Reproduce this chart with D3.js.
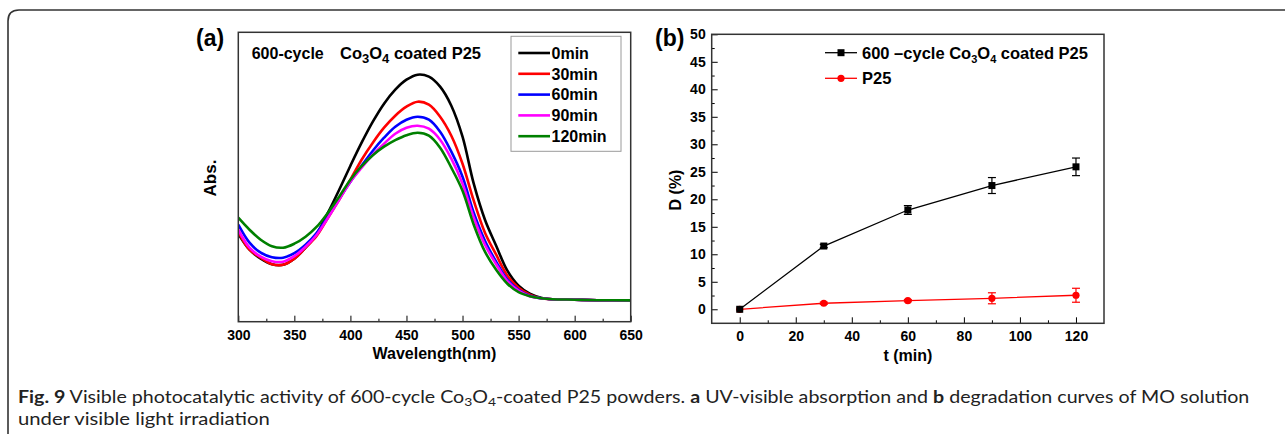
<!DOCTYPE html>
<html>
<head>
<meta charset="utf-8">
<script src="https://cdn.jsdelivr.net/npm/d3@7"></script>
<style>
  body { margin: 0; background: #fff; }
  svg { display: block; }
  .lbl { font-family: "Liberation Sans", Arial, sans-serif; font-weight: bold; fill: #000; }
  .ax text { font-family: "Liberation Sans", Arial, sans-serif; font-weight: bold; font-size: 14px; fill: #000; }
  .cap { font-family: Lato, "Open Sans", sans-serif; font-size: 17px; fill: #222; }
</style>
</head>
<body>
<svg id="fig" width="1285" height="434"></svg>
<script>
// ---------- data: (a) UV-vis spectra ----------
var wavelengths = [300, 310, 320, 330, 340, 350, 360, 370, 380, 390, 400, 410, 420, 430, 440, 450, 460,
                   470, 480, 490, 500, 510, 520, 530, 540, 550, 560, 570, 580, 600, 620, 650];
var abs0min   = [0.88, 0.72, 0.63, 0.575, 0.57, 0.63, 0.74, 0.88, 1.09, 1.32, 1.56, 1.79, 2.00, 2.18, 2.32, 2.42, 2.47,
                 2.45, 2.35, 2.16, 1.85, 1.38, 1.02, 0.76, 0.51, 0.36, 0.28, 0.24, 0.225, 0.22, 0.215, 0.213];
var abs30min  = [0.90, 0.72, 0.64, 0.575, 0.57, 0.63, 0.74, 0.86, 1.04, 1.22, 1.42, 1.62, 1.79, 1.94, 2.06, 2.15, 2.20,
                 2.17, 2.05, 1.86, 1.58, 1.21, 0.89, 0.67, 0.46, 0.34, 0.27, 0.235, 0.225, 0.22, 0.215, 0.213];
var abs60min  = [0.97, 0.79, 0.69, 0.645, 0.64, 0.685, 0.77, 0.89, 1.05, 1.23, 1.40, 1.56, 1.71, 1.84, 1.95, 2.02, 2.05,
                 2.02, 1.90, 1.70, 1.45, 1.09, 0.81, 0.60, 0.42, 0.32, 0.26, 0.235, 0.225, 0.22, 0.215, 0.213];
var abs90min  = [0.92, 0.74, 0.65, 0.605, 0.60, 0.655, 0.75, 0.87, 1.04, 1.22, 1.40, 1.54, 1.67, 1.78, 1.88, 1.94, 1.96,
                 1.93, 1.82, 1.63, 1.38, 1.04, 0.77, 0.575, 0.405, 0.31, 0.255, 0.235, 0.225, 0.22, 0.215, 0.213];
var abs120min = [1.04, 0.92, 0.82, 0.755, 0.74, 0.78, 0.85, 0.95, 1.09, 1.25, 1.42, 1.555, 1.665, 1.75, 1.815, 1.865, 1.89,
                 1.86, 1.74, 1.54, 1.31, 0.97, 0.70, 0.52, 0.38, 0.295, 0.255, 0.235, 0.225, 0.22, 0.215, 0.213];
var seriesNamesA = ["0min", "30min", "60min", "90min", "120min"];
var colorsA = ["#000000", "#ff0000", "#0000ff", "#ff00ff", "#008000"];
var xTicksA = [300, 350, 400, 450, 500, 550, 600, 650];
var xMinorA = [325, 375, 425, 475, 525, 575, 625];

// ---------- data: (b) degradation ----------
var times = [0, 30, 60, 90, 120];
var degCoated = [0, 11.5, 18.05, 22.5, 25.9];
var errCoated = [0, 0.3, 0.8, 1.45, 1.6];
var degP25 = [0, 1.1, 1.57, 2.0, 2.55];
var errP25 = [0, 0.2, 0.2, 1.0, 1.27];
var xTicksB = [0, 20, 40, 60, 80, 100, 120];
var xMinorB = [10, 30, 50, 70, 90, 110];
var yTicksB = [0, 5, 10, 15, 20, 25, 30, 35, 40, 45, 50];
var yMinorB = [2.5, 7.5, 12.5, 17.5, 22.5, 27.5, 32.5, 37.5, 42.5, 47.5];

var svg = d3.select("#fig");

// outer rounded frame (runs off right/bottom)
svg.append("path")
    .attr("d", "M8,440 V21 Q8,10 19,10 H1290")
    .attr("fill", "none")
    .attr("stroke", "#333")
    .attr("stroke-width", 1.6);

// ================= panel (a) =================
var A = { left: 238.3, right: 630.7, top: 32.3, bottom: 321.7 };
var xA = d3.scaleLinear().domain([300, 650]).range([A.left, A.right]);
var yA = d3.scaleLinear().domain([0, 2.894]).range([A.bottom, A.top]);

svg.append("clipPath").attr("id", "clipA")
    .append("rect").attr("x", A.left).attr("y", A.top)
    .attr("width", A.right - A.left).attr("height", A.bottom - A.top);

var spectra = [abs0min, abs30min, abs60min, abs90min, abs120min];
var lineA = d3.line()
    .x(function (d) { return xA(d[0]); })
    .y(function (d) { return yA(d[1]); })
    .curve(d3.curveCatmullRom.alpha(0.5));

svg.append("g").attr("clip-path", "url(#clipA)")
    .selectAll("path")
    .data(spectra)
    .enter().append("path")
    .attr("d", function (s) { return lineA(wavelengths.map(function (w, i) { return [w, s[i]]; })); })
    .attr("fill", "none")
    .attr("stroke", function (s, i) { return colorsA[i]; })
    .attr("stroke-width", 2.6);

// bottom axis (ticks pointing in)
svg.append("g").attr("class", "ax")
    .attr("transform", "translate(0," + A.bottom + ")")
    .call(d3.axisBottom(xA).tickValues(xTicksA).tickSizeInner(-6).tickSizeOuter(0).tickPadding(8))
    .call(function (g) { g.select(".domain").remove(); });
svg.append("g").attr("class", "ax")
    .attr("transform", "translate(0," + A.bottom + ")")
    .call(d3.axisBottom(xA).tickValues(xMinorA).tickSize(-3).tickFormat(""))
    .call(function (g) { g.select(".domain").remove(); });

// frame
svg.append("rect")
    .attr("x", A.left).attr("y", A.top)
    .attr("width", A.right - A.left).attr("height", A.bottom - A.top)
    .attr("fill", "none").attr("stroke", "#333").attr("stroke-width", 1.5);

// legend (a)
var legA = svg.append("g");
legA.append("rect")
    .attr("x", 511).attr("y", 36.3).attr("width", 110).attr("height", 115)
    .attr("fill", "#fff").attr("stroke", "#9a9a9a").attr("stroke-width", 1);
seriesNamesA.forEach(function (name, i) {
    var yy = 53 + i * 20.8;
    legA.append("line").attr("x1", 518.3).attr("x2", 550).attr("y1", yy).attr("y2", yy)
        .attr("stroke", colorsA[i]).attr("stroke-width", 2.6);
    legA.append("text").attr("class", "lbl").attr("x", 551.5).attr("y", yy).attr("dy", "0.36em")
        .style("font-size", "16px").text(name);
});

// title (a)
svg.append("text").attr("class", "lbl").attr("x", 251.7).attr("y", 59.3)
    .style("font-size", "16px").text("600-cycle");
var tA = svg.append("text").attr("class", "lbl").attr("x", 340).attr("y", 59.3).style("font-size", "16.5px");
tA.append("tspan").text("Co");
tA.append("tspan").attr("dy", 4).style("font-size", "13px").text("3");
tA.append("tspan").attr("dy", -4).text("O");
tA.append("tspan").attr("dy", 4).style("font-size", "13px").text("4");
tA.append("tspan").attr("dy", -4).text(" coated P25");

svg.append("text").attr("class", "lbl").attr("x", 196).attr("y", 46)
    .style("font-size", "23px").text("(a)");
svg.append("text").attr("class", "lbl")
    .attr("transform", "translate(216,178) rotate(-90)")
    .attr("text-anchor", "middle").style("font-size", "17px").text("Abs.");
svg.append("text").attr("class", "lbl").attr("x", (A.left + A.right) / 2).attr("y", 358.5)
    .attr("text-anchor", "middle").style("font-size", "16px").text("Wavelength(nm)");

// ================= panel (b) =================
var B = { left: 711.7, right: 1104, top: 34.3, bottom: 323.3 };
var xB = d3.scaleLinear().domain([-10, 130]).range([B.left, B.right]);
var yB = d3.scaleLinear().domain([-2.55, 50]).range([B.bottom, B.top]);

svg.append("g").attr("class", "ax")
    .attr("transform", "translate(0," + B.bottom + ")")
    .call(d3.axisBottom(xB).tickValues(xTicksB).tickSizeInner(-6).tickSizeOuter(0).tickPadding(8))
    .call(function (g) { g.select(".domain").remove(); });
svg.append("g").attr("class", "ax")
    .attr("transform", "translate(0," + B.bottom + ")")
    .call(d3.axisBottom(xB).tickValues(xMinorB).tickSize(-3).tickFormat(""))
    .call(function (g) { g.select(".domain").remove(); });
svg.append("g").attr("class", "ax")
    .attr("transform", "translate(" + B.left + ",0)")
    .call(d3.axisLeft(yB).tickValues(yTicksB).tickSizeInner(-6).tickSizeOuter(0).tickPadding(6))
    .call(function (g) { g.select(".domain").remove(); });
svg.append("g").attr("class", "ax")
    .attr("transform", "translate(" + B.left + ",0)")
    .call(d3.axisLeft(yB).tickValues(yMinorB).tickSize(-3).tickFormat(""))
    .call(function (g) { g.select(".domain").remove(); });

svg.append("rect")
    .attr("x", B.left).attr("y", B.top)
    .attr("width", B.right - B.left).attr("height", B.bottom - B.top)
    .attr("fill", "none").attr("stroke", "#333").attr("stroke-width", 1.5);

var seriesB = [
    { vals: degP25, errs: errP25, color: "#ff0000", shape: "circle" },
    { vals: degCoated, errs: errCoated, color: "#000000", shape: "square" }
];
var lineB = d3.line()
    .x(function (d) { return xB(d[0]); })
    .y(function (d) { return yB(d[1]); });

seriesB.forEach(function (s) {
    var pts = times.map(function (t, i) { return [t, s.vals[i], s.errs[i]]; });
    var g = svg.append("g");
    g.append("path").attr("d", lineB(pts)).attr("fill", "none")
        .attr("stroke", s.color).attr("stroke-width", 1.3);
    var eb = g.selectAll(".eb").data(pts.filter(function (p) { return p[2] > 0; })).enter().append("g");
    eb.append("line")
        .attr("x1", function (p) { return xB(p[0]); }).attr("x2", function (p) { return xB(p[0]); })
        .attr("y1", function (p) { return yB(p[1] - p[2]); }).attr("y2", function (p) { return yB(p[1] + p[2]); })
        .attr("stroke", s.color).attr("stroke-width", 1.2);
    [-1, 1].forEach(function (sg) {
        eb.append("line")
            .attr("x1", function (p) { return xB(p[0]) - 4; }).attr("x2", function (p) { return xB(p[0]) + 4; })
            .attr("y1", function (p) { return yB(p[1] + sg * p[2]); }).attr("y2", function (p) { return yB(p[1] + sg * p[2]); })
            .attr("stroke", s.color).attr("stroke-width", 1.2);
    });
    if (s.shape === "circle") {
        g.selectAll("circle").data(pts).enter().append("circle")
            .attr("cx", function (p) { return xB(p[0]); }).attr("cy", function (p) { return yB(p[1]); })
            .attr("r", 3.6).attr("fill", s.color);
    } else {
        g.selectAll("rect").data(pts).enter().append("rect")
            .attr("x", function (p) { return xB(p[0]) - 3.5; }).attr("y", function (p) { return yB(p[1]) - 3.5; })
            .attr("width", 7).attr("height", 7).attr("fill", s.color);
    }
});

// legend (b)
var legB = svg.append("g");
legB.append("line").attr("x1", 825).attr("x2", 857).attr("y1", 52.7).attr("y2", 52.7)
    .attr("stroke", "#000").attr("stroke-width", 1.3);
legB.append("rect").attr("x", 837.5).attr("y", 49.2).attr("width", 7).attr("height", 7).attr("fill", "#000");
var tB = legB.append("text").attr("class", "lbl").attr("x", 862).attr("y", 52.7).attr("dy", "0.36em")
    .style("font-size", "16.5px");
tB.append("tspan").text("600 \u2013cycle Co");
tB.append("tspan").attr("dy", 4).style("font-size", "11px").text("3");
tB.append("tspan").attr("dy", -4).text("O");
tB.append("tspan").attr("dy", 4).style("font-size", "11px").text("4");
tB.append("tspan").attr("dy", -4).text(" coated P25");
legB.append("line").attr("x1", 825).attr("x2", 857).attr("y1", 78.3).attr("y2", 78.3)
    .attr("stroke", "#ff0000").attr("stroke-width", 1.3);
legB.append("circle").attr("cx", 841).attr("cy", 78.3).attr("r", 3.6).attr("fill", "#ff0000");
legB.append("text").attr("class", "lbl").attr("x", 862).attr("y", 78.3).attr("dy", "0.36em")
    .style("font-size", "16.5px").text("P25");

svg.append("text").attr("class", "lbl").attr("x", 655).attr("y", 46)
    .style("font-size", "23px").text("(b)");
svg.append("text").attr("class", "lbl")
    .attr("transform", "translate(681,190) rotate(-90)")
    .attr("text-anchor", "middle").style("font-size", "16px").text("D (%)");
svg.append("text").attr("class", "lbl").attr("x", xB(60)).attr("y", 361)
    .attr("text-anchor", "middle").style("font-size", "16px").text("t (min)");

// ================= caption =================
// the journal font is condensed: squeeze each line horizontally to the width it has in print
function fitWidth(sel, w) {
    var natural = sel.node().getComputedTextLength();
    var x = +sel.attr("x"), y = +sel.attr("y");
    sel.attr("x", 0).attr("y", 0)
        .attr("transform", "translate(" + x + "," + y + ") scale(" + (w / natural) + ",1)");
}
var c1 = svg.append("text").attr("class", "cap").attr("x", 18).attr("y", 403);
c1.append("tspan").style("font-weight", "bold").text("Fig. 9");
c1.append("tspan").text(" Visible photocatalytic activity of 600-cycle Co");
c1.append("tspan").attr("dy", 3).style("font-size", "12px").text("3");
c1.append("tspan").attr("dy", -3).text("O");
c1.append("tspan").attr("dy", 3).style("font-size", "12px").text("4");
c1.append("tspan").attr("dy", -3).text("-coated P25 powders. ");
c1.append("tspan").style("font-weight", "bold").text("a");
c1.append("tspan").text(" UV-visible absorption and ");
c1.append("tspan").style("font-weight", "bold").text("b");
c1.append("tspan").text(" degradation curves of MO solution");
fitWidth(c1, 1232);
var c2 = svg.append("text").attr("class", "cap").attr("x", 18).attr("y", 425)
    .text("under visible light irradiation");
fitWidth(c2, 252);
</script>
</body>
</html>
